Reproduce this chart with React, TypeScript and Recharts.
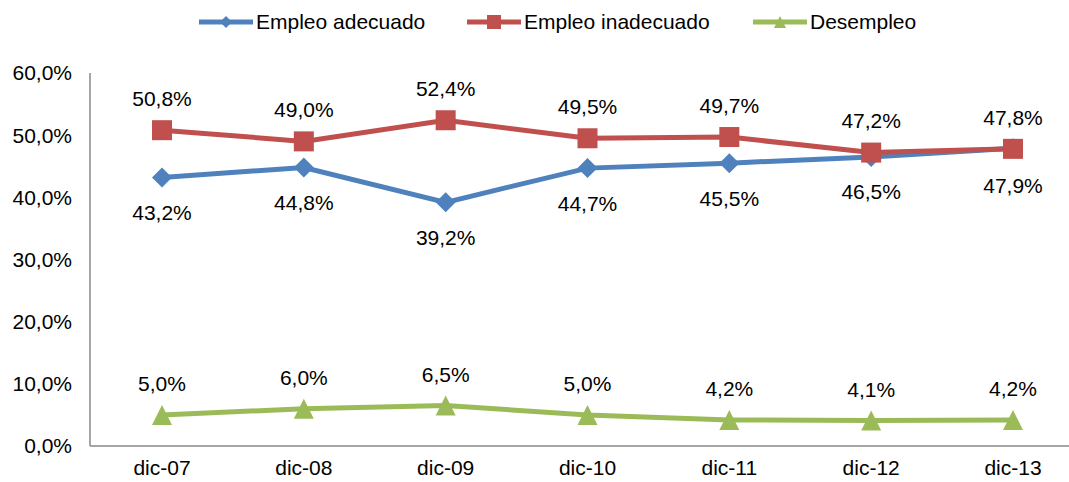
import { LabelList, Line, LineChart, XAxis, YAxis } from 'recharts'

// Empleo en Ecuador, diciembre 2007 - diciembre 2013 (% de la PEA)
const categories = ['dic-07', 'dic-08', 'dic-09', 'dic-10', 'dic-11', 'dic-12', 'dic-13']
const adecuado = [43.2, 44.8, 39.2, 44.7, 45.5, 46.5, 47.9]
const inadecuado = [50.8, 49.0, 52.4, 49.5, 49.7, 47.2, 47.8]
const desempleo = [5.0, 6.0, 6.5, 5.0, 4.2, 4.1, 4.2]
const yTicks = [0, 10, 20, 30, 40, 50, 60]

const FONT = '"Liberation Sans", Arial, sans-serif'
const FS = 21
const BLUE = '#4F81BD'
const RED = '#C0504D'
const GREEN = '#9BBB59'
const AXIS = '#898989'

const data = categories.map((period, i) => ({
  period,
  adecuado: adecuado[i],
  inadecuado: inadecuado[i],
  desempleo: desempleo[i],
}))

const fmt = (v: number) => v.toFixed(1).replace('.', ',') + '%'

type Shape = 'diamond' | 'square' | 'triangle'

function marker(shape: Shape, cx: number, cy: number, r: number, color: string) {
  if (shape === 'diamond')
    return <path d={`M${cx},${cy - r}L${cx + r},${cy}L${cx},${cy + r}L${cx - r},${cy}Z`} fill={color} />
  if (shape === 'square')
    return <rect x={cx - r} y={cy - r} width={2 * r} height={2 * r} fill={color} />
  return <path d={`M${cx},${cy - r}L${cx + r},${cy + r}L${cx - r},${cy + r}Z`} fill={color} />
}

const makeDot = (shape: Shape, color: string) => (props: any) => {
  const { cx, cy, index } = props
  if (cx == null || cy == null) return <g key={index} />
  return <g key={index}>{marker(shape, cx, cy, 10, color)}</g>
}

// dy per point: negative above the marker, positive below
const makeLabel = (dys: number[]) => (props: any) => {
  const { x, y, value, index } = props
  return (
    <text x={x} y={y + dys[index]} textAnchor="middle" dominantBaseline="central"
          fontFamily={FONT} fontSize={FS} fill="#000">
      {fmt(value as number)}
    </text>
  )
}

const series = [
  { key: 'adecuado', name: 'Empleo adecuado', color: BLUE, shape: 'diamond' as Shape, legendX: 198,
    dys: [35, 35, 35, 35, 35, 35, 37] },
  { key: 'inadecuado', name: 'Empleo inadecuado', color: RED, shape: 'square' as Shape, legendX: 466,
    dys: [-32, -32, -32, -32, -32, -32, -31] },
  { key: 'desempleo', name: 'Desempleo', color: GREEN, shape: 'triangle' as Shape, legendX: 752,
    dys: [-31, -31, -31, -31, -31, -31, -31] },
]

function ChartLegend() {
  return (
    <>
      {series.map((s) => (
        <div key={s.key} style={{ position: 'absolute', left: s.legendX, top: 10, display: 'flex',
                                  alignItems: 'center', fontFamily: FONT, fontSize: FS, color: '#000',
                                  whiteSpace: 'nowrap' }}>
          <svg width={56} height={24} style={{ marginRight: 2 }}>
            <line x1={1} y1={12} x2={55} y2={12} stroke={s.color} strokeWidth={5} />
            {marker(s.shape, 28, 12, s.shape === 'square' ? 7 : 6, s.color)}
          </svg>
          <span>{s.name}</span>
        </div>
      ))}
    </>
  )
}

export default function App() {
  return (
    <div style={{ position: 'absolute', left: 0, top: 0, width: 1069, height: 482,
                  overflow: 'hidden', background: '#fff' }}>
      <LineChart width={1085} height={482} data={data}
                 margin={{ top: 73, right: 3, bottom: 0, left: 0 }}>
        <XAxis dataKey="period" height={36} padding={{ left: 72, right: 69 }}
               axisLine={{ stroke: AXIS, strokeWidth: 1.5 }}
               tickLine={false} tickSize={0} tickMargin={14}
               tick={{ fill: '#000', fontSize: FS, fontFamily: FONT }} />
        <YAxis width={90} domain={[0, 60]} ticks={yTicks} interval={0}
               axisLine={{ stroke: AXIS, strokeWidth: 1.5 }} tickLine={false} tickSize={0} tickMargin={18}
               tickFormatter={fmt} tick={{ fill: '#000', fontSize: FS, fontFamily: FONT }} />
        {series.map((s) => (
          <Line key={s.key} type="linear" dataKey={s.key} name={s.name} stroke={s.color}
                strokeWidth={5} dot={makeDot(s.shape, s.color)} activeDot={false}
                isAnimationActive={false}>
            <LabelList dataKey={s.key} content={makeLabel(s.dys)} />
          </Line>
        ))}
      </LineChart>
      <ChartLegend />
    </div>
  )
}
